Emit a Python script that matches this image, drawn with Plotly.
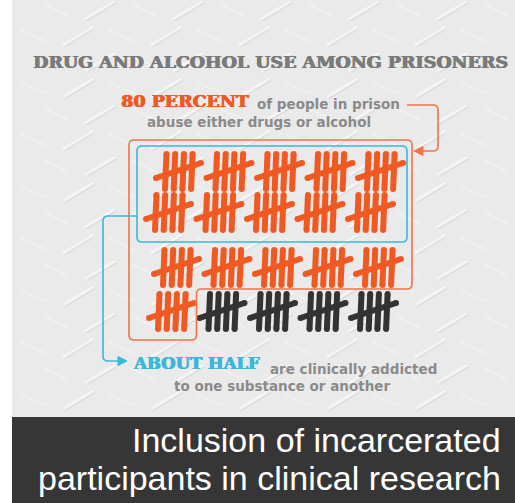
import plotly.graph_objects as go

# ---------------- data ----------------
total_prisoners = 100          # one tally stroke per person (per 100)
abuse_percent = 80             # abuse drugs or alcohol
addicted_percent = 50          # clinically addicted
tally_size = 5                 # strokes per tally group
groups_per_row = 5
title_text = "DRUG AND ALCOHOL USE AMONG PRISONERS"
abuse_label = "80 PERCENT"
abuse_text = ["of people in prison", "abuse either drugs or alcohol"]
addicted_label = "ABOUT HALF"
addicted_text = ["are clinically addicted", "to one substance or another"]
caption_lines = ["Inclusion of incarcerated", "participants in clinical research"]

# ---------------- style / layout ----------------
W, H = 515, 503
ORANGE = "#f05a22"
ORANGE_LINE = "#f07448"
BLUE = "#3cb6da"
DARK = "#333333"
GRAY_TXT = "#8a8a8a"
TITLE_GRAY = "#7a7a7a"
BG = "#eaeaea"
PANEL_X0, PANEL_Y1 = 12, 417

row_start_x = [155, 145, 153, 148]
row_center_y = [172, 213, 268, 312]
group_pitch = 50.5

fig = go.Figure()


def _towards(a, b, dist):
    dx, dy = b[0] - a[0], b[1] - a[1]
    L = (dx * dx + dy * dy) ** 0.5
    return (a[0] + dx / L * dist, a[1] + dy / L * dist)


def rounded_path(pts, r=5):
    n = len(pts)
    d = ""
    for i in range(n):
        p0, p1, p2 = pts[i - 1], pts[i], pts[(i + 1) % n]
        a = _towards(p1, p0, r)
        b = _towards(p1, p2, r)
        d += ("M" if i == 0 else "L") + f"{a[0]:.1f},{a[1]:.1f} Q{p1[0]},{p1[1]} {b[0]:.1f},{b[1]:.1f} "
    return d + "Z"


def open_path(pts, r=5):
    d = f"M{pts[0][0]},{pts[0][1]} "
    for i in range(1, len(pts) - 1):
        p0, p1, p2 = pts[i - 1], pts[i], pts[i + 1]
        a = _towards(p1, p0, r)
        b = _towards(p1, p2, r)
        d += f"L{a[0]:.1f},{a[1]:.1f} Q{p1[0]},{p1[1]} {b[0]:.1f},{b[1]:.1f} "
    d += f"L{pts[-1][0]},{pts[-1][1]}"
    return d


shapes = []
shapes.append(dict(type="rect", x0=PANEL_X0, x1=W, y0=0, y1=PANEL_Y1, fillcolor=BG, line_width=0, layer="below"))
shapes.append(dict(type="rect", x0=PANEL_X0, x1=W, y0=PANEL_Y1, y1=H, fillcolor="#363636", line_width=0, layer="below"))

# ---------------- diamond-plate texture (decoration) ----------------
tex = {"up_hi": ([], []), "up_lo": ([], []), "dn_hi": ([], [])}
r_i = 0
y = 10
while y < PANEL_Y1 - 6:
    c_i = 0
    x = PANEL_X0 + (22 if r_i % 2 else 0)
    while x < W + 10:
        if (r_i + c_i) % 2 == 0:
            p, q = (x - 15, y + 9), (x + 15, y - 9)
            key = "up"
        else:
            p, q = (x - 13, y - 6), (x + 13, y + 6)
            key = "dn"
        if PANEL_X0 + 3 < min(p[0], q[0]) and max(p[0], q[0]) < W - 1:
            xs, ys = tex[key + "_hi"]
            xs += [p[0], q[0], None]
            ys += [p[1], q[1], None]
            if key == "up":
                xs2, ys2 = tex["up_lo"]
                xs2 += [p[0] + 1.5, q[0] + 1.5, None]
                ys2 += [p[1] + 1.8, q[1] + 1.8, None]
        x += 44
        c_i += 1
    y += 26
    r_i += 1
fig.add_trace(go.Scatter(x=tex["up_lo"][0], y=tex["up_lo"][1], mode="lines",
                         line=dict(color="#dddddd", width=1.5), hoverinfo="skip", showlegend=False))
fig.add_trace(go.Scatter(x=tex["up_hi"][0], y=tex["up_hi"][1], mode="lines",
                         line=dict(color="#f6f6f6", width=2.2), hoverinfo="skip", showlegend=False))
fig.add_trace(go.Scatter(x=tex["dn_hi"][0], y=tex["dn_hi"][1], mode="lines",
                         line=dict(color="#f1f1f1", width=1.8), hoverinfo="skip", showlegend=False))

# ---------------- tallies ----------------
n_groups = total_prisoners // tally_size
abuse_groups = abuse_percent // tally_size
addicted_groups = addicted_percent // tally_size

seg = {ORANGE: ([], []), DARK: ([], [])}
for g in range(n_groups):
    row, col = divmod(g, groups_per_row)
    gx = row_start_x[row] + col * group_pitch
    yc = row_center_y[row]
    color = ORANGE if g < abuse_groups else DARK
    xs, ys = seg[color]
    for k in range(tally_size - 1):
        bx = gx + 10 + k * 8.7
        xs += [bx, bx + 1.5, None]
        ys += [yc + 17, yc - 18, None]
    xs += [gx + 1, gx + 46, None]
    ys += [yc + 6, yc - 9, None]

for color, (xs, ys) in seg.items():
    fig.add_trace(go.Scatter(x=xs, y=ys, mode="lines+markers",
                             line=dict(color=color, width=6),
                             marker=dict(color=color, size=6, line_width=0),
                             hoverinfo="skip", showlegend=False))

# ---------------- frames ----------------
last_row, last_col = divmod(abuse_groups - 1, groups_per_row)
step_x = row_start_x[last_row] + (last_col + 1) * group_pitch - 2
orange_pts = [(129, 140), (412, 140), (412, 289), (step_x, 289), (step_x, 340), (129, 340)]
shapes.append(dict(type="path", path=rounded_path(orange_pts, 5), line=dict(color=ORANGE_LINE, width=1.6)))
shapes.append(dict(type="path", path=rounded_path([(137, 146), (407, 146), (407, 242), (137, 242)], 5),
                   line=dict(color=BLUE, width=1.6)))

shapes.append(dict(type="path", path=open_path([(407, 105), (438, 105), (438, 151), (421, 151)], 5),
                   line=dict(color=ORANGE_LINE, width=1.6)))
shapes.append(dict(type="path", path="M414,151 L423,146.5 L423,155.5 Z", fillcolor=ORANGE_LINE,
                   line=dict(color=ORANGE_LINE, width=1)))
shapes.append(dict(type="path", path=open_path([(137, 216), (103, 216), (103, 361), (119, 361)], 5),
                   line=dict(color=BLUE, width=1.6)))
shapes.append(dict(type="path", path="M127,361 L118,356.5 L118,365.5 Z", fillcolor=BLUE,
                   line=dict(color=BLUE, width=1)))

# ---------------- texts ----------------
def heavy(color):
    return f"0.7px 0 0 {color}, -0.3px 0 0 {color}"

ann = []
ann.append(dict(x=270, y=62, text=title_text, showarrow=False, xanchor="center", yanchor="middle",
                font=dict(family="DejaVu Serif", size=17.5, color=TITLE_GRAY, weight="bold",
                          shadow=heavy(TITLE_GRAY))))
ann.append(dict(x=119, y=101, text=abuse_label, showarrow=False, xanchor="left", yanchor="middle",
                font=dict(family="DejaVu Serif", size=17.5, color=ORANGE, weight="bold", shadow=heavy(ORANGE))))
ann.append(dict(x=255, y=104, text=abuse_text[0], showarrow=False, xanchor="left", yanchor="middle",
                font=dict(family="DejaVu Sans", size=13.5, color=GRAY_TXT, weight="bold")))
ann.append(dict(x=259, y=122, text=abuse_text[1], showarrow=False, xanchor="center", yanchor="middle",
                font=dict(family="DejaVu Sans", size=13.5, color=GRAY_TXT, weight="bold")))
ann.append(dict(x=131, y=363, text=addicted_label, showarrow=False, xanchor="left", yanchor="middle",
                font=dict(family="DejaVu Serif", size=16.5, color=BLUE, weight="bold", shadow=heavy(BLUE))))
ann.append(dict(x=268, y=369, text=addicted_text[0], showarrow=False, xanchor="left", yanchor="middle",
                font=dict(family="DejaVu Sans", size=13.5, color=GRAY_TXT, weight="bold")))
ann.append(dict(x=282, y=386, text=addicted_text[1], showarrow=False, xanchor="center", yanchor="middle",
                font=dict(family="DejaVu Sans", size=13.5, color=GRAY_TXT, weight="bold")))
ann.append(dict(x=503, y=440, text=caption_lines[0], showarrow=False, xanchor="right", yanchor="middle",
                font=dict(family="Liberation Sans", size=34, color="white")))
ann.append(dict(x=503, y=478, text=caption_lines[1], showarrow=False, xanchor="right", yanchor="middle",
                font=dict(family="Liberation Sans", size=34, color="white")))

fig.update_layout(
    width=W, height=H, margin=dict(l=0, r=0, t=0, b=0),
    paper_bgcolor="white", plot_bgcolor="white",
    xaxis=dict(range=[0, W], visible=False, fixedrange=True),
    yaxis=dict(range=[H, 0], visible=False, fixedrange=True),
    shapes=shapes, annotations=ann, showlegend=False,
)
fig.write_html("out.html", config={"displayModeBar": False},
               post_script="document.body.style.margin='0';document.body.style.overflow='hidden';")
